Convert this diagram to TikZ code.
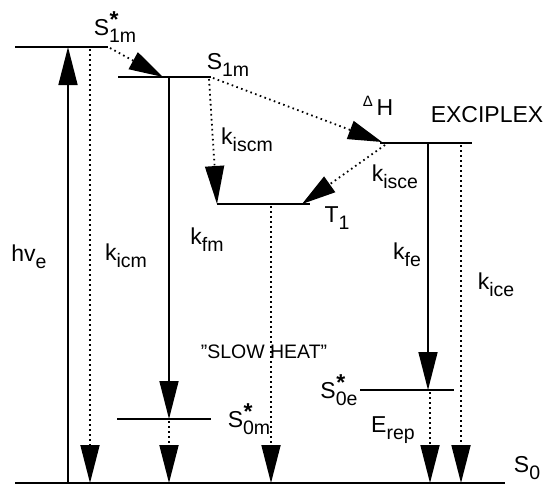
\documentclass[tikz,border=0pt]{standalone}
\usepackage{fontspec}
\setmainfont{Liberation Sans}
\usetikzlibrary{arrows.meta}
\newcommand\lsb[1]{\raisebox{-0.3em}{\fontsize{19.5}{20}\selectfont #1}}
\newcommand\lst[2]{\makebox[0pt][l]{\hspace{0.5pt}\raisebox{0.36em}{\fontsize{23}{23}\selectfont\bfseries #1}}\lsb{#2}}
\begin{document}
\begin{tikzpicture}[x=1pt,y={(0pt,-1pt)},
  level/.style={line width=1.8pt},
  solidarr/.style={line width=1.6pt,-{Triangle[length=38pt,width=19pt]}},
  dotarr/.style={line width=1.8pt,dash pattern=on 1.6pt off 3.4pt,-{Triangle[length=38pt,width=19pt]}},
  diagarr/.style={line width=1.8pt,dash pattern=on 1.6pt off 3.4pt,-{Triangle[length=34pt,width=19pt]}},
  lbl/.style={font=\fontsize{23}{26}\selectfont, inner sep=0pt}]
\useasboundingbox (0,0) rectangle (546,485);
% level end points
\coordinate (L1a) at (15,47);   \coordinate (L1b) at (108,47);
\coordinate (L2a) at (118,77);  \coordinate (L2b) at (211,77);
\coordinate (LTa) at (217,204); \coordinate (LTb) at (310,204);
\coordinate (LEa) at (380,143); \coordinate (LEb) at (472,143);
\coordinate (L0ea) at (360,390);\coordinate (L0eb) at (454,390);
\coordinate (L0ma) at (117,419);\coordinate (L0mb) at (211,419);
\coordinate (L0a) at (15,483);  \coordinate (L0b) at (505,483);
% levels
\draw[level] (L1a) -- (L1b);
\draw[level] (L2a) -- (L2b);
\draw[level] (LTa) -- (LTb);
\draw[level] (LEa) -- (LEb);
\draw[level] (L0ea) -- (L0eb);
\draw[level] (L0ma) -- (L0mb);
\draw[level] (L0a) -- (L0b);
% arrow end points
\coordinate (hvA) at (68,483);  \coordinate (hvB) at (68,47);
\coordinate (icmA) at (90,49);  \coordinate (icmB) at (90,483);
\coordinate (fmA) at (169,77);  \coordinate (fmB) at (169,419);
\coordinate (smA) at (169,421); \coordinate (smB) at (169,483);
\coordinate (iscA) at (209,79); \coordinate (iscB) at (217,204);
\coordinate (shA) at (271,206); \coordinate (shB) at (271,483);
\coordinate (feA) at (428,143); \coordinate (feB) at (428,390);
\coordinate (erA) at (430,392); \coordinate (erB) at (430,483);
\coordinate (iceA) at (461,145);\coordinate (iceB) at (461,483);
\coordinate (d1A) at (110,48);  \coordinate (d1B) at (163,77);
\coordinate (d2A) at (213,78);  \coordinate (d2B) at (382,142);
\coordinate (d3A) at (385,145); \coordinate (d3B) at (302,204);
% arrows
\draw[solidarr] (hvA) -- (hvB);
\draw[dotarr] (icmA) -- (icmB);
\draw[solidarr] (fmA) -- (fmB);
\draw[dotarr] (smA) -- (smB);
\draw[dotarr] (iscA) -- (iscB);
\draw[dotarr] (shA) -- (shB);
\draw[solidarr] (feA) -- (feB);
\draw[dotarr] (erA) -- (erB);
\draw[dotarr] (iceA) -- (iceB);
\draw[diagarr] (d1A) -- (d1B);
\draw[diagarr] (d2A) -- (d2B);
\draw[diagarr] (d3A) -- (d3B);
% labels
\node[lbl] (s1ms) at (115,27) {S\lst{*}{1m}};
\node[lbl] (s1m) at (228,65) {S\lsb{1m}};
\node[lbl] (dh) at (378,106) {\raisebox{0.4em}{\fontsize{15}{15}\selectfont Δ}\,H};
\node[lbl] (exc) at (487,115) {EXCIPLEX};
\node[lbl] (kiscm) at (247,140) {k\lsb{iscm}};
\node[lbl] (kisce) at (395,177) {k\lsb{isce}};
\node[lbl] (t1) at (337,218) {T\lsb{1}};
\node[lbl] (hve) at (29,257) {hv\lsb{e}};
\node[lbl] (kicm) at (126,256) {k\lsb{icm}};
\node[lbl] (kfm) at (207,240) {k\lsb{fm}};
\node[lbl] (kfe) at (407,255) {k\lsb{fe}};
\node[lbl] (kice) at (496,285) {k\lsb{ice}};
\node[lbl,font=\fontsize{19.5}{22}\selectfont] (slow) at (264,352) {\char"22 SLOW HEAT\char"22};
\node[lbl] (s0m) at (249,419) {S\lst{*}{0m}};
\node[lbl] (s0e) at (339,390) {S\lst{*}{0e}};
\node[lbl] (erep) at (393,430) {E\lsb{rep}};
\node[lbl] (s0) at (527,468) {S\lsb{0}};
\end{tikzpicture}
\end{document}
